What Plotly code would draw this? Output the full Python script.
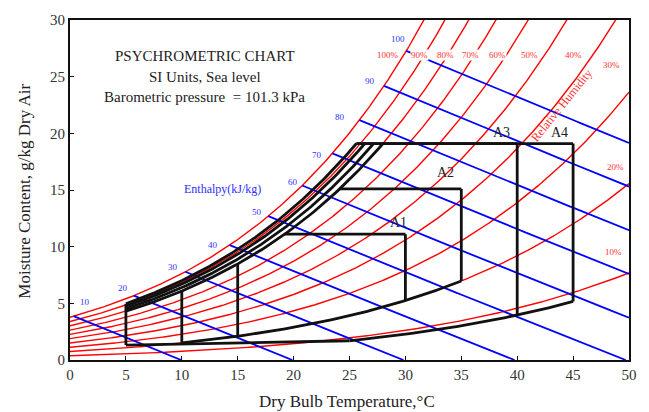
import numpy as np
import plotly.graph_objects as go

# ---------------- data ----------------
P_ATM = 101.3                      # barometric pressure, kPa
rh_levels = [10, 20, 30, 40, 50, 60, 70, 80, 90, 100]          # %
rh_labels = ["10%", "20%", "30%", "40%", "50%", "60%", "70%", "80%", "90%", "100%"]
enthalpy_levels = [10, 20, 30, 40, 50, 60, 70, 80, 90, 100]    # kJ/kg
x_ticks = [0, 5, 10, 15, 20, 25, 30, 35, 40, 45, 50]
y_ticks = [0, 5, 10, 15, 20, 25, 30]

# process regions A1..A4
region_names = ["A1", "A2", "A3", "A4"]
region_t_max = [30, 35, 40, 45]            # right edge dry-bulb, C
region_w_max = [11.1, 15.1, 19.1, 19.1]    # top moisture, g/kg
upper_rh_bounds = [80, 84, 88, 92]         # upper humidity boundaries, %
inner_verticals_t = [5, 10, 15]            # left-side vertical divisions, C
lower_line_t = [5, 25]                     # straight dry boundary, C
lower_line_w = [1.32, 1.70]                # g/kg
mid_rh = 20                                # % curve bounding A1/A2 bottoms
mid_rh_span = [10, 35]
dry_rh = 8.7                               # % curve bounding A3/A4 bottoms
dry_rh_span = [25, 45]

# ---------------- psychrometrics ----------------
def p_sat(t):
    return 0.61094 * np.exp(17.625 * t / (t + 243.04))

def w_rh(t, rh):
    pv = rh / 100.0 * p_sat(t)
    return 622.0 * pv / (P_ATM - pv)

def w_h(t, h):
    return (h - 1.006 * t) / (2501 + 1.86 * t) * 1000.0

def t_at_w(w, rh):
    lo, hi = -20.0, 80.0
    for _ in range(80):
        mid = (lo + hi) / 2
        if w_rh(mid, rh) < w:
            lo = mid
        else:
            hi = mid
    return (lo + hi) / 2

def t_sat_h(h):
    lo, hi = -20.0, 80.0
    for _ in range(80):
        mid = (lo + hi) / 2
        if w_rh(mid, 100) < w_h(mid, h):
            lo = mid
        else:
            hi = mid
    return (lo + hi) / 2

RED = "#ff0000"
BLUE = "#0000ff"
BLACK = "#111111"
SERIF = "Liberation Serif, Times New Roman, serif"

fig = go.Figure()

# RH curves
for rh in rh_levels:
    t = np.linspace(0, 50, 400)
    w = w_rh(t, rh)
    keep = w <= 31
    fig.add_trace(go.Scatter(x=t[keep], y=w[keep], mode="lines",
                             line=dict(color=RED, width=1.4),
                             hoverinfo="skip", showlegend=False))

# enthalpy lines
for h in enthalpy_levels:
    t0 = max(0.0, t_sat_h(h))
    t1 = min(50.0, h / 1.006)
    t = np.linspace(t0, t1, 60)
    fig.add_trace(go.Scatter(x=t, y=w_h(t, h), mode="lines",
                             line=dict(color=BLUE, width=1.8),
                             hoverinfo="skip", showlegend=False))

def black(xs, ys):
    fig.add_trace(go.Scatter(x=xs, y=ys, mode="lines",
                             line=dict(color=BLACK, width=2.8),
                             hoverinfo="skip", showlegend=False))

w_top = max(region_w_max)
# upper humidity boundary curves
for rh in upper_rh_bounds:
    t = np.linspace(inner_verticals_t[0], t_at_w(w_top, rh), 120)
    black(t, w_rh(t, rh))

# straight dry boundary + dry RH curve
black(lower_line_t, lower_line_w)
t = np.linspace(dry_rh_span[0], dry_rh_span[1], 120)
black(t, w_rh(t, dry_rh))
# mid RH curve
t = np.linspace(mid_rh_span[0], mid_rh_span[1], 120)
black(t, w_rh(t, mid_rh))

# left verticals
t5 = inner_verticals_t[0]
black([t5, t5], [lower_line_w[0], w_rh(t5, upper_rh_bounds[-1])])
for tv in inner_verticals_t[1:]:
    black([tv, tv], [w_rh(tv, mid_rh), w_rh(tv, upper_rh_bounds[0])])

# region tops and right edges
for tm, wm in zip(region_t_max, region_w_max):
    rh_edge = upper_rh_bounds[-1] if wm >= w_top else upper_rh_bounds[0]
    black([t_at_w(wm, rh_edge), tm], [wm, wm])
    base_rh = mid_rh if tm <= mid_rh_span[1] else dry_rh
    black([tm, tm], [w_rh(tm, base_rh), wm])

# ---------------- annotations ----------------
ann = []
rh_label_pos = {"100%": (28.47, 26.91), "90%": (31.24, 26.91), "80%": (33.63, 26.91),
                "70%": (35.78, 26.91), "60%": (38.22, 26.91), "50%": (41.14, 26.91),
                "40%": (45.02, 26.91), "30%": (48.39, 26.03), "20%": (48.75, 17.06),
                "10%": (48.6, 9.56)}
for lab in rh_labels:
    x, y = rh_label_pos[lab]
    ann.append(dict(x=x, y=y, text=lab, showarrow=False, bgcolor="white",
                    font=dict(family=SERIF, size=9, color="#ff3030"), borderpad=0))

h_label_pos = [(1.34, 5.14), (4.77, 6.35), (9.24, 8.23), (12.82, 10.15), (16.7, 13.09),
               (19.97, 15.73), (22.07, 18.09), (24.15, 21.47), (26.83, 24.65), (29.34, 28.32)]
for h, (x, y) in zip(enthalpy_levels, h_label_pos):
    ann.append(dict(x=x, y=y, text=str(h), showarrow=False, bgcolor="white",
                    font=dict(family=SERIF, size=9, color="#3030ff"), borderpad=0))

ann.append(dict(x=13.6, y=15.1, text="Enthalpy(kJ/kg)", showarrow=False,
                font=dict(family=SERIF, size=12, color="#3030ff")))
ann.append(dict(x=44.0, y=22.5, text="Relative Humidity", showarrow=False, textangle=-51,
                font=dict(family=SERIF, size=12, color="#ff3030")))

a_pos = [(29.36, 12.13), (33.6, 16.55), (38.6, 20.07), (43.8, 20.07)]
for name, (x, y) in zip(region_names, a_pos):
    ann.append(dict(x=x, y=y, text=name, showarrow=False,
                    font=dict(family=SERIF, size=14, color="#222222")))

title_lines = ["PSYCHROMETRIC CHART", "SI Units, Sea level", "Barometric pressure  = 101.3 kPa"]
for txt, y in zip(title_lines, [26.82, 24.97, 23.21]):
    ann.append(dict(x=12.07, y=y, text=txt, showarrow=False,
                    font=dict(family=SERIF, size=15, color="#222222")))

ann.append(dict(xref="paper", yref="paper", x=(347 - 70) / 559, y=(360 - 401) / 340,
                xanchor="center", yanchor="middle",
                text="Dry Bulb Temperature,°C", showarrow=False,
                font=dict(family=SERIF, size=17, color="#222222")))
ann.append(dict(xref="paper", yref="paper", x=(25 - 70) / 559, y=(360 - 191.7) / 340,
                xanchor="center", yanchor="middle",
                text="Moisture Content, g/kg Dry Air", showarrow=False, textangle=-90,
                font=dict(family=SERIF, size=17, color="#222222")))

axis_common = dict(showgrid=False, zeroline=False, showline=True, linecolor="#111111",
                   linewidth=2, mirror=True, ticks="inside", ticklen=4, tickcolor="#111111",
                   tickfont=dict(family=SERIF, size=15, color="#333333"))

fig.update_layout(
    width=649, height=412,
    margin=dict(l=70, r=20, t=20, b=52),
    plot_bgcolor="white", paper_bgcolor="white",
    xaxis=dict(range=[0, 50], tickvals=x_ticks, **axis_common),
    yaxis=dict(range=[0, 30], tickvals=y_ticks, **axis_common),
    annotations=ann,
    showlegend=False,
)

fig.write_html("out.html")
